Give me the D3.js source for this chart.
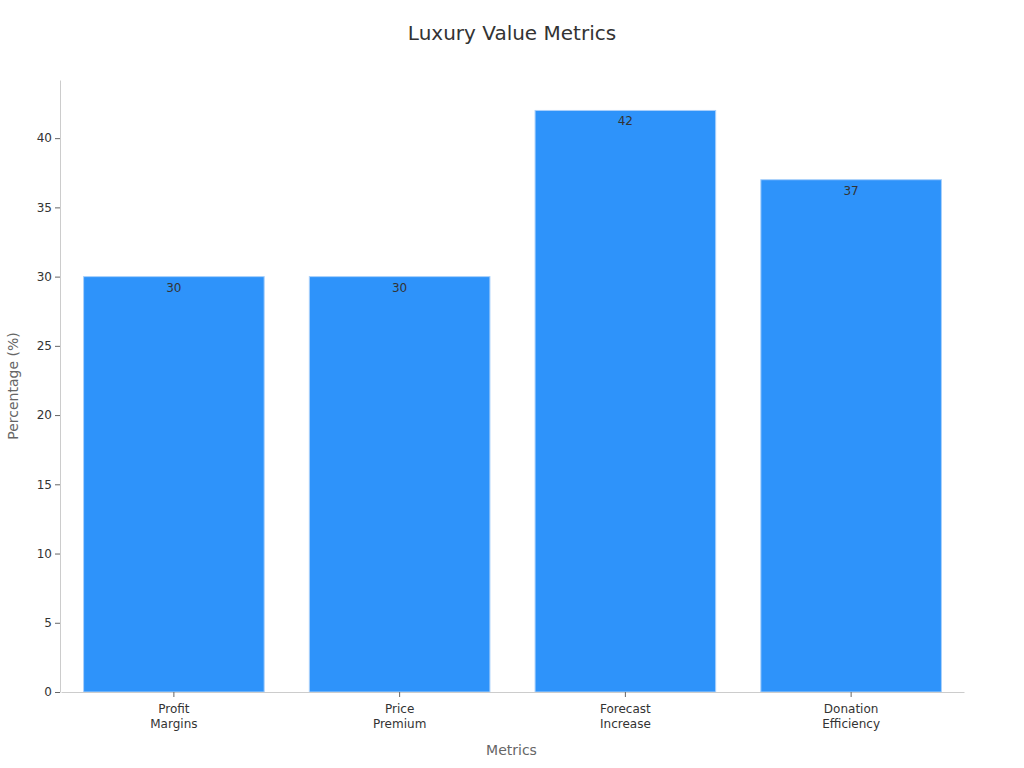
<!DOCTYPE html>
<html>
<head>
<meta charset="utf-8">
<script src="https://cdn.jsdelivr.net/npm/d3@7"></script>
<style>
  body { margin: 0; background: #fff; }
  text { font-family: "DejaVu Sans", sans-serif; }
</style>
</head>
<body>
<div id="chart"></div>
<script>
const categories = ["Profit\nMargins", "Price\nPremium", "Forecast\nIncrease", "Donation\nEfficiency"];
const values = [30, 30, 42, 37];
const yTicks = [0, 5, 10, 15, 20, 25, 30, 35, 40];

const width = 1024, height = 768;
const margin = { top: 80, right: 61, bottom: 76, left: 60 };

const svg = d3.select("#chart").append("svg")
  .attr("width", width)
  .attr("height", height);

const x = d3.scaleBand()
  .domain(categories)
  .range([margin.left + 1, width - margin.right + 1])
  .paddingInner(0.2)
  .paddingOuter(0.1);

const y = d3.scaleLinear()
  .domain([0, 44.2])
  .range([height - margin.bottom, margin.top]);

// title
svg.append("text")
  .attr("x", width / 2)
  .attr("y", 40)
  .attr("text-anchor", "middle")
  .attr("font-size", 20)
  .attr("fill", "#333")
  .text("Luxury Value Metrics");

// bars
svg.append("g")
  .selectAll("rect")
  .data(values)
  .join("rect")
  .attr("x", (d, i) => x(categories[i]))
  .attr("y", (d) => y(d))
  .attr("width", x.bandwidth())
  .attr("height", (d) => y(0) - y(d))
  .attr("fill", "#2e93fa")
  .attr("stroke", "#a9d0fb")
  .attr("stroke-width", 1);

// value labels
svg.append("g")
  .selectAll("text")
  .data(values)
  .join("text")
  .attr("x", (d, i) => x(categories[i]) + x.bandwidth() / 2)
  .attr("y", (d) => y(d) + 15)
  .attr("text-anchor", "middle")
  .attr("font-size", 12)
  .attr("fill", "#333")
  .text((d) => d);

// y axis
const yAxis = svg.append("g")
  .attr("transform", `translate(${margin.left},0)`)
  .call(d3.axisLeft(y).tickValues(yTicks).tickSize(5).tickSizeOuter(0));
yAxis.select(".domain").attr("stroke", "#ccc");
yAxis.selectAll(".tick line").attr("stroke", "#666");
yAxis.selectAll(".tick text")
  .attr("font-size", 12)
  .attr("fill", "#333")
  .attr("font-family", "DejaVu Sans, sans-serif");

// x axis
const xAxis = svg.append("g")
  .attr("transform", `translate(0,${height - margin.bottom})`)
  .call(d3.axisBottom(x).tickSize(5).tickSizeOuter(0));
xAxis.select(".domain").attr("stroke", "#ccc");
xAxis.selectAll(".tick line").attr("stroke", "#666");
xAxis.selectAll(".tick text").each(function (d) {
  const t = d3.select(this)
    .text(null)
    .attr("y", 12)
    .attr("font-size", 12)
    .attr("fill", "#333")
    .attr("font-family", "DejaVu Sans, sans-serif");
  d.split("\n").forEach((line, i) => {
    t.append("tspan")
      .attr("x", 0)
      .attr("dy", i === 0 ? "0.71em" : "1.3em")
      .text(line);
  });
});

// axis titles
svg.append("text")
  .attr("x", (margin.left + width - margin.right) / 2)
  .attr("y", 755)
  .attr("text-anchor", "middle")
  .attr("font-size", 14)
  .attr("fill", "#666")
  .text("Metrics");

svg.append("text")
  .attr("transform", `translate(18,${(margin.top + height - margin.bottom) / 2}) rotate(-90)`)
  .attr("text-anchor", "middle")
  .attr("font-size", 14)
  .attr("fill", "#666")
  .text("Percentage (%)");
</script>
</body>
</html>
